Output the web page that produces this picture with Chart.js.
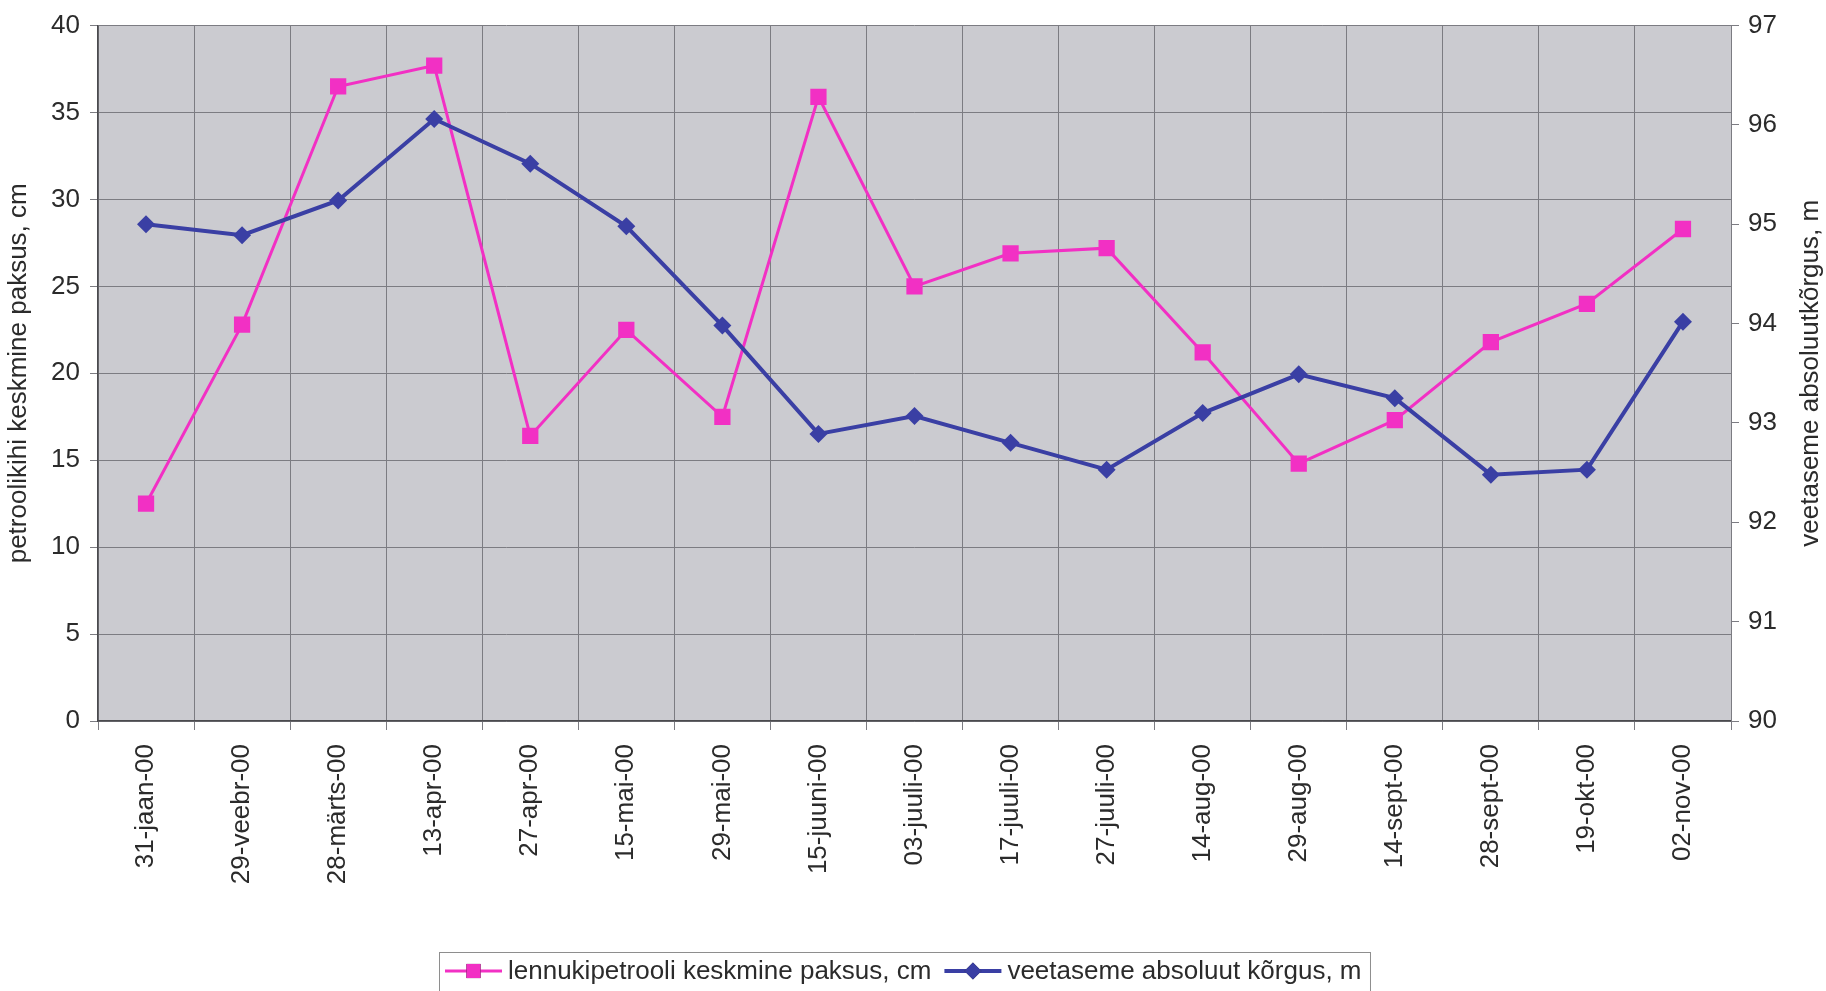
<!DOCTYPE html>
<html>
<head>
<meta charset="utf-8">
<title>Lennukipetrooli kiht ja veetase 2000</title>
<script src="https://cdn.jsdelivr.net/npm/chart.js@4/dist/chart.umd.min.js"></script>
<style>
  html, body { margin: 0; padding: 0; background: #ffffff; }
  #chart { display: block; }
</style>
</head>
<body>
<canvas id="chart" width="1826" height="991"></canvas>
<script>
// Measurement dates (year 2000)
const dates = ['31-jaan-00', '29-veebr-00', '28-märts-00', '13-apr-00', '27-apr-00', '15-mai-00',
  '29-mai-00', '15-juuni-00', '03-juuli-00', '17-juuli-00', '27-juuli-00', '14-aug-00',
  '29-aug-00', '14-sept-00', '28-sept-00', '19-okt-00', '02-nov-00'];

// Mean thickness of the jet fuel layer, cm (left axis)
const fuelThickness = [12.5, 22.8, 36.5, 37.7, 16.4, 22.5, 17.5, 35.9, 25.0, 26.9, 27.2,
  21.2, 14.8, 17.3, 21.8, 24.0, 28.3];

// Absolute water table elevation, m (right axis)
const waterLevel = [95.00, 94.89, 95.24, 96.06, 95.61, 94.98, 93.98, 92.89, 93.07, 92.80, 92.53,
  93.10, 93.49, 93.25, 92.48, 92.53, 94.02];

// Axis ranges and tick steps
const leftTicks = [0, 40, 5];
const rightTicks = [90, 97, 1];

// Texts
const fuelLabel = 'lennukipetrooli keskmine paksus, cm';
const waterLabel = 'veetaseme absoluut kõrgus, m';
const leftTitle = 'petroolikihi keskmine paksus, cm';
const rightTitle = 'veetaseme absoluutkõrgus, m';

const FONT = '"Liberation Sans", Arial, Helvetica, sans-serif';
const TEXT = '#2b2b2b';
const PINK = '#f230c4';
const BLUE = '#3a3fa4';
const PLOT_BG = '#cbcbd0';
const GRID = '#7c7c82';
const AXIS = '#4a4a4e';

Chart.defaults.font.family = FONT;
Chart.defaults.font.size = 26;
Chart.defaults.color = TEXT;

// Grey fill behind the plotting area
const plotBackground = {
  id: 'plotBackground',
  beforeDraw(chart) {
    const { ctx, chartArea: a } = chart;
    ctx.save();
    ctx.fillStyle = PLOT_BG;
    ctx.fillRect(a.left, a.top, a.right - a.left, a.bottom - a.top);
    ctx.restore();
  }
};

// Right axis title, reading bottom-to-top
const rightAxisTitle = {
  id: 'rightAxisTitle',
  afterDraw(chart) {
    const { ctx, chartArea: a } = chart;
    ctx.save();
    ctx.translate(chart.width - 15.5, (a.top + a.bottom) / 2);
    ctx.rotate(-Math.PI / 2);
    ctx.font = '26px ' + FONT;
    ctx.fillStyle = TEXT;
    ctx.textAlign = 'center';
    ctx.textBaseline = 'middle';
    ctx.fillText(rightTitle, 0, 0);
    ctx.restore();
  }
};

// Boxed legend below the date labels, each entry a line with its marker
const boxedLegend = {
  id: 'boxedLegend',
  afterDraw(chart) {
    const ctx = chart.ctx;
    ctx.save();
    ctx.font = '26px ' + FONT;
    const lineLen = 57, gapAfterLine = 6, gapAfterText = 13;
    const lineY = 971, textY = 979;
    let x = 445;
    const boxLeft = 439.5, boxTop = 952.5;
    chart.data.datasets.forEach((ds) => {
      ctx.strokeStyle = ds.borderColor;
      ctx.lineWidth = ds.borderWidth;
      ctx.beginPath();
      ctx.moveTo(x, lineY);
      ctx.lineTo(x + lineLen, lineY);
      ctx.stroke();
      Chart.helpers.drawPoint(ctx, {
        pointStyle: ds.pointStyle,
        radius: ds.pointStyle === 'rect' ? 10 : 8.5,
        rotation: 0,
        borderWidth: 0
      }, x + lineLen / 2, lineY);
      ctx.fillStyle = ds.backgroundColor;
      ctx.fill();
      x += lineLen + gapAfterLine;
      ctx.fillStyle = TEXT;
      ctx.textBaseline = 'alphabetic';
      ctx.textAlign = 'left';
      ctx.fillText(ds.label, x, textY);
      x += ctx.measureText(ds.label).width + gapAfterText;
    });
    ctx.strokeStyle = '#8e8e8e';
    ctx.lineWidth = 1;
    ctx.strokeRect(boxLeft, boxTop, x - 4 - boxLeft, 80);
    ctx.restore();
  }
};

new Chart(document.getElementById('chart'), {
  type: 'line',
  data: {
    labels: dates,
    datasets: [
      {
        label: fuelLabel,
        data: fuelThickness,
        yAxisID: 'y',
        borderColor: PINK,
        backgroundColor: PINK,
        borderWidth: 3,
        pointStyle: 'rect',
        pointRadius: 11.5,
        pointBorderWidth: 0,
        tension: 0,
        order: 2
      },
      {
        label: waterLabel,
        data: waterLevel,
        yAxisID: 'y2',
        borderColor: BLUE,
        backgroundColor: BLUE,
        borderWidth: 4,
        pointStyle: 'rectRot',
        pointRadius: 9,
        pointBorderWidth: 0,
        tension: 0,
        order: 1
      }
    ]
  },
  options: {
    responsive: false,
    animation: false,
    devicePixelRatio: 1,
    layout: { padding: { top: 24, bottom: 0, left: 0, right: 0 } },
    plugins: {
      legend: { display: false },
      tooltip: { enabled: false }
    },
    scales: {
      x: {
        offset: true,
        grid: { offset: true, color: GRID, lineWidth: 1, tickLength: 9 },
        border: { color: AXIS, width: 1.5 },
        ticks: { minRotation: 90, maxRotation: 90, autoSkip: false, padding: 14, color: TEXT },
        afterFit(scale) { scale.height = 270; }
      },
      y: {
        position: 'left',
        min: leftTicks[0],
        max: leftTicks[1],
        ticks: { stepSize: leftTicks[2], padding: 10, color: TEXT },
        grid: { color: GRID, lineWidth: 1, tickLength: 8 },
        border: { color: AXIS, width: 1.5 },
        title: { display: true, text: leftTitle, padding: { top: 3, bottom: 0 }, color: TEXT, font: { size: 26 } },
        afterFit(scale) { scale.width = 98; }
      },
      y2: {
        position: 'right',
        min: rightTicks[0],
        max: rightTicks[1],
        ticks: { stepSize: rightTicks[2], padding: 9, color: TEXT },
        grid: { drawOnChartArea: false, color: GRID, tickLength: 8 },
        border: { color: GRID },
        afterFit(scale) { scale.width = 95; }
      }
    }
  },
  plugins: [plotBackground, rightAxisTitle, boxedLegend]
});
</script>
</body>
</html>
